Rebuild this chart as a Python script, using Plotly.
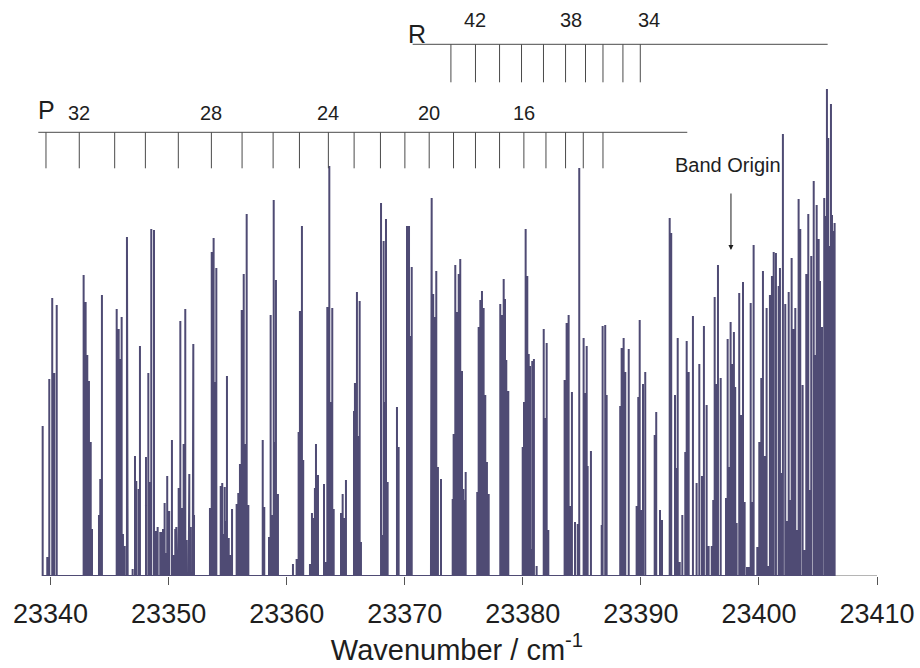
import numpy as np
import plotly.graph_objects as go

# ---- stick spectrum: line positions (cm^-1) and relative intensities (arb. units)
wavenumber = [
    23339.33, 23339.72, 23339.89, 23340.14, 23340.31, 23340.52,
    23342.80, 23342.97, 23343.11, 23343.25, 23343.40, 23343.51,
    23344.10, 23344.21, 23344.35,
    23345.60, 23345.77, 23345.88, 23346.02, 23346.13, 23346.28, 23346.47, 23346.53, 23346.95,
    23347.15, 23347.26, 23347.46, 23347.57,
    23348.08, 23348.28, 23348.36, 23348.53, 23348.76, 23348.90, 23349.07, 23349.29, 23349.38, 23349.52, 23349.66, 23349.77, 23349.88,
    23350.05, 23350.28, 23350.45, 23350.56, 23350.65, 23350.71, 23350.85, 23350.99, 23351.13, 23351.27, 23351.41, 23351.53, 23351.70, 23351.75, 23351.87, 23352.04, 23352.09, 23352.15,
    23353.50, 23353.65, 23353.81, 23353.92, 23354.04, 23354.41, 23354.54, 23354.63, 23354.75, 23354.86, 23354.94, 23355.09, 23355.22, 23355.37,
    23355.76, 23355.90, 23356.04, 23356.19, 23356.36, 23356.47, 23356.61, 23356.75,
    23357.97, 23358.10, 23358.50, 23358.64, 23358.78, 23358.90, 23358.98, 23359.09, 23359.26,
    23360.53, 23360.84, 23361.01, 23361.12, 23361.29, 23361.40,
    23361.97, 23362.14, 23362.28, 23362.39, 23362.48, 23362.65, 23363.16, 23363.30, 23363.44, 23363.61,
    23363.78, 23363.86, 23363.98,
    23364.60, 23364.74, 23364.88, 23365.02,
    23365.70, 23365.78, 23365.95, 23366.06, 23366.18, 23366.29,
    23367.99, 23368.10, 23368.21, 23368.30, 23368.41, 23368.55,
    23369.34, 23369.48,
    23370.19, 23370.36, 23370.47, 23370.59,
    23372.22, 23372.28, 23372.41, 23372.53, 23372.67, 23372.81, 23373.07,
    23374.06, 23374.14, 23374.28, 23374.40, 23374.57, 23374.70, 23374.85, 23374.96, 23375.04, 23375.16,
    23376.14, 23376.26, 23376.40, 23376.54, 23376.68, 23376.82, 23376.96, 23377.11,
    23378.09, 23378.23, 23378.38, 23378.49, 23378.60, 23378.77,
    23379.99, 23380.10, 23380.24, 23380.38, 23380.50, 23380.61, 23380.72, 23380.80, 23380.94, 23381.17,
    23381.77, 23381.90, 23382.02, 23382.16,
    23383.54, 23383.71, 23383.88, 23383.99, 23384.16, 23384.42, 23384.65, 23384.78,
    23385.15, 23385.26, 23385.41, 23385.49, 23385.77,
    23386.68, 23386.76, 23386.98, 23387.10,
    23388.25, 23388.37, 23388.54, 23388.68, 23388.97,
    23389.64, 23389.78, 23389.90, 23390.07, 23390.18, 23390.37,
    23391.17, 23391.30, 23391.62, 23391.79,
    23392.44, 23392.57, 23392.89, 23393.00, 23393.12, 23393.29, 23393.51, 23393.76, 23393.88, 23394.05,
    23394.41, 23394.72, 23394.95, 23395.17, 23395.34, 23395.57, 23395.74, 23396.00, 23396.13, 23396.25, 23396.42, 23396.53, 23396.76,
    23397.21, 23397.35, 23397.49, 23397.60, 23397.74, 23397.88, 23397.99, 23398.11, 23398.33, 23398.50, 23398.65, 23398.79, 23398.99,
    23399.13, 23399.30, 23399.43, 23399.55, 23399.86,
    23400.03, 23400.20, 23400.34, 23400.51, 23400.65, 23400.82, 23400.93, 23401.10, 23401.25, 23401.44, 23401.67, 23401.78, 23401.95,
    23402.03, 23402.23, 23402.37, 23402.52, 23402.63, 23402.77, 23402.91, 23403.08, 23403.25, 23403.36, 23403.50, 23403.70, 23403.87,
    23404.01, 23404.18, 23404.32, 23404.43, 23404.64, 23404.77, 23404.89, 23405.06, 23405.17, 23405.34, 23405.53, 23405.65, 23405.76, 23405.87,
    23405.98, 23406.10, 23406.19, 23406.30, 23406.41,
]

intensity = [
    150, 19, 197, 278, 203, 271,
    301, 274, 221, 195, 134, 47,
    61, 97, 281,
    267, 247, 217, 259, 42, 30, 339, 13, 7,
    120, 95, 87, 230,
    119, 203, 94, 347, 346, 45, 49, 44, 44, 47, 73, 23, 100,
    65, 136, 21, 47, 49, 30, 88, 255, 68, 132, 267, 36, 62, 102, 49, 9, 232, 61,
    68, 324, 338, 194, 308, 90, 93, 42, 89, 55, 200, 38, 21, 67,
    72, 83, 112, 266, 302, 132, 362, 71,
    136, 69, 39, 261, 61, 376, 134, 296, 82,
    12, 17, 144, 265, 350, 116,
    12, 63, 58, 88, 132, 101, 92, 14, 269, 410,
    174, 268, 67,
    63, 82, 58, 96,
    165, 193, 284, 140, 275, 34,
    373, 41, 335, 174, 357, 94,
    169, 129,
    350, 350, 240, 309,
    309, 378, 282, 259, 305, 109, 97,
    77, 142, 311, 264, 302, 317, 205, 87, 76, 104,
    84, 249, 276, 285, 268, 181, 114, 82,
    272, 261, 297, 277, 216, 185,
    129, 174, 347, 300, 222, 210, 27, 215, 217, 10,
    247, 158, 233, 46,
    196, 253, 261, 70, 184, 54, 52, 408,
    238, 183, 230, 110, 125,
    51, 250, 251, 181,
    170, 228, 238, 204, 227,
    70, 179, 256, 66, 192, 204,
    141, 164, 66, 56,
    358, 343, 181, 108, 238, 14, 61, 124, 235, 204,
    260, 93, 212, 100, 250, 171, 30, 30, 76, 279, 192, 311, 198,
    78, 237, 109, 254, 212, 244, 189, 53, 283, 161, 294, 74, 9,
    9, 273, 74, 331, 29,
    134, 198, 305, 120, 268, 10, 281, 300, 324, 323, 290, 308, 103,
    442, 272, 55, 284, 76, 318, 247, 268, 46, 377, 347, 191, 26,
    302, 362, 86, 320, 395, 221, 371, 337, 295, 249, 378, 360, 487, 438,
    330, 472, 361, 345, 353,
]
assert len(wavenumber) == len(intensity)

# ---- rotational assignments (cm^-1)
p_branch_J = list(range(33, 11, -1))
p_branch_pos = [23339.61, 23342.43, 23345.43, 23348.03, 23350.82, 23353.62, 23356.22,
                23358.85, 23361.08, 23363.53, 23365.71, 23367.94, 23370.01, 23372.07,
                23374.13, 23375.99, 23378.03, 23380.09, 23381.96, 23383.62, 23385.12,
                23386.79]
r_branch_J = list(range(43, 33, -1))
r_branch_pos = [23373.91, 23375.99, 23378.03, 23379.89, 23381.75, 23383.62, 23385.31,
                23386.79, 23388.48, 23389.95]
p_labels = [32, 28, 24, 20, 16]
r_labels = [42, 38, 34]
band_origin = 23397.63

x_ticks = [23340, 23350, 23360, 23370, 23380, 23390, 23400, 23410]

# ---- styling constants
STICK = "#4f4b74"
INK = "#1e1e1e"
FONT = "Liberation Sans, Arial, sans-serif"
X_RANGE = [23338.85, 23410]
Y_TOP = 576
P_LEVEL, P_TICK = 443.7, 36     # P comb baseline and tooth length
R_LEVEL, R_TICK = 531.7, 38     # R comb baseline and tooth length
P_SPAN = (23338.96, 23393.93)
R_SPAN = (23370.67, 23405.82)

# stick spectrum drawn as a continuous trace: baseline -> peak -> baseline
wn = np.asarray(wavenumber)
inten = np.asarray(intensity, dtype=float)
sx = np.repeat(wn, 3)
sy = np.column_stack([np.zeros_like(inten), inten, np.zeros_like(inten)]).ravel()

fig = go.Figure()
fig.add_trace(go.Scatter(x=sx, y=sy, mode="lines",
                         line=dict(color=STICK, width=2.0),
                         hoverinfo="skip", showlegend=False))


def comb(positions, level, tooth, span):
    xs, ys = [span[0], span[1], None], [level, level, None]
    for p in positions:
        xs += [p, p, None]
        ys += [level, level - tooth, None]
    return go.Scatter(x=xs, y=ys, mode="lines", line=dict(color="#4a4a4a", width=1),
                      hoverinfo="skip", showlegend=False)


fig.add_trace(comb(p_branch_pos, P_LEVEL, P_TICK, P_SPAN))
fig.add_trace(comb(r_branch_pos, R_LEVEL, R_TICK, R_SPAN))

annotations = []
annotations.append(dict(x=P_SPAN[0], y=P_LEVEL + 22, text="P", showarrow=False,
                        xanchor="left", yanchor="middle", xshift=-2,
                        font=dict(family=FONT, size=25, color=INK)))
annotations.append(dict(x=R_SPAN[0], y=R_LEVEL + 10, text="R", showarrow=False,
                        xanchor="left", yanchor="middle", xshift=-7,
                        font=dict(family=FONT, size=25, color=INK)))
for J in p_labels:
    annotations.append(dict(x=p_branch_pos[p_branch_J.index(J)], y=P_LEVEL + 19,
                            text=str(J), showarrow=False, yanchor="middle",
                            font=dict(family=FONT, size=20, color=INK)))
for J, dx in zip(r_labels, [0, 5, 9]):
    annotations.append(dict(x=r_branch_pos[r_branch_J.index(J)], y=R_LEVEL + 24,
                            text=str(J), showarrow=False, yanchor="middle", xshift=dx,
                            font=dict(family=FONT, size=20, color=INK)))
annotations.append(dict(x=band_origin, y=411, text="Band Origin", showarrow=False,
                        yanchor="middle", xshift=-3,
                        font=dict(family=FONT, size=20, color=INK)))
annotations.append(dict(x=band_origin, y=326, ax=band_origin, ay=384,
                        axref="x", ayref="y", text="", showarrow=True,
                        arrowhead=2, arrowsize=1, arrowwidth=1, arrowcolor=INK))

fig.update_layout(
    width=920, height=668,
    margin=dict(l=37, r=43, t=0, b=92),
    paper_bgcolor="white", plot_bgcolor="white",
    annotations=annotations,
    shapes=[dict(type="line", xref="x", yref="y", x0=23339.27, x1=X_RANGE[1],
                 y0=0, y1=0, line=dict(color="#6a6a6a", width=1), layer="below")],
    xaxis=dict(range=X_RANGE, showgrid=False, zeroline=False, showline=False,
               tickmode="array", tickvals=x_ticks, ticktext=[str(t) for t in x_ticks],
               ticks="outside", ticklen=8, tickcolor="#555", tickwidth=1,
               ticklabelstandoff=6,
               tickfont=dict(family=FONT, size=27, color=INK),
               title=dict(text="Wavenumber / cm<sup>-1</sup>", standoff=10,
                          font=dict(family=FONT, size=29, color=INK))),
    yaxis=dict(range=[0, Y_TOP], visible=False, fixedrange=True),
)

fig.write_html("out.html")
